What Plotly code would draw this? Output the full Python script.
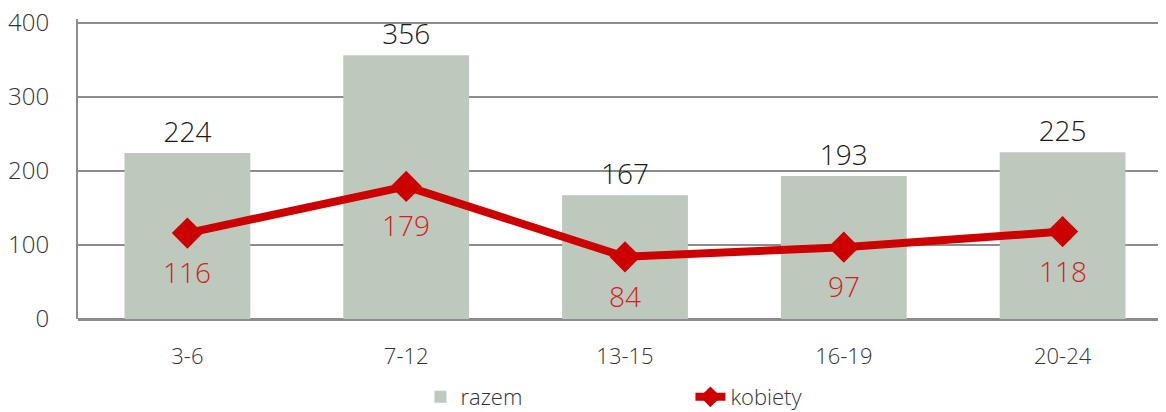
import plotly.graph_objects as go

categories = ["3-6", "7-12", "13-15", "16-19", "20-24"]
razem = [224, 356, 167, 193, 225]
kobiety = [116, 179, 84, 97, 118]
y_ticks = [0, 100, 200, 300, 400]

FONT = "Open Sans"
LIGHT = 300

fig = go.Figure()
fig.add_trace(go.Bar(
    x=categories, y=razem, name="razem",
    marker=dict(color="#bdc9bc", line=dict(width=0)),
    width=0.575,
    text=[str(v) for v in razem], textposition="outside",
    textfont=dict(family=FONT, size=28, color="#1a1a1a", weight=LIGHT),
    cliponaxis=False,
))
fig.add_trace(go.Scatter(
    x=categories, y=kobiety, name="kobiety", mode="lines+markers",
    line=dict(color="#cc0000", width=8),
    marker=dict(symbol="diamond", size=24, color="#cc0000"),
    cliponaxis=False,
))
for c, v in zip(categories, kobiety):
    fig.add_annotation(
        x=c, y=v, text=str(v), showarrow=False, yshift=-39,
        font=dict(family=FONT, size=28, color="#d42020", weight=LIGHT),
    )

fig.update_layout(
    width=1166, height=412,
    margin=dict(l=70, r=2, t=11, b=101, autoexpand=False),
    paper_bgcolor="white", plot_bgcolor="white",
    font=dict(family=FONT, color="#333333", weight=LIGHT),
    showlegend=True,
    legend=dict(
        orientation="h", x=0.313, y=-0.19, xanchor="left", yanchor="top",
        font=dict(family=FONT, size=22, color="#333333", weight=LIGHT),
        entrywidth=225, entrywidthmode="pixels",
        bgcolor="rgba(0,0,0,0)",
    ),
    bargap=0.425,
)
fig.update_xaxes(
    type="category", range=[-0.5, 4.5],
    showgrid=False, showline=False, ticks="",
    tickfont=dict(family=FONT, size=22, color="#333333", weight=LIGHT),
    ticklabelstandoff=22,
)
fig.update_yaxes(
    range=[0, 405], tickvals=y_ticks, ticktext=[str(v) for v in y_ticks],
    showgrid=True, gridcolor="#8c8c8c", gridwidth=2,
    showline=True, linecolor="#8c8c8c", linewidth=2,
    zeroline=True, zerolinecolor="#8c8c8c", zerolinewidth=3,
    ticks="", tickfont=dict(family=FONT, size=24, color="#333333", weight=LIGHT),
    ticklabelstandoff=22, ticklabeloverflow="allow",
)

fig.write_html("out.html")
